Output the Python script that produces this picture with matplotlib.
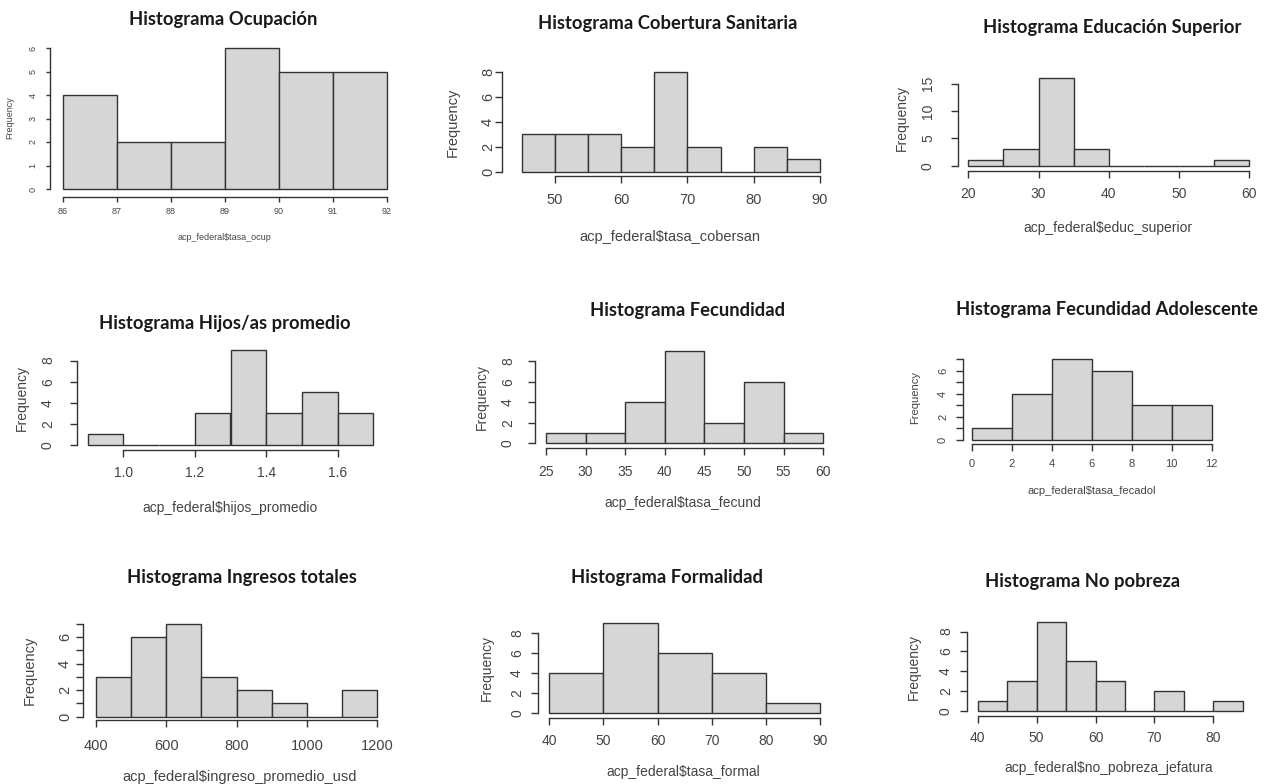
import numpy as np
import matplotlib
matplotlib.use("Agg")
import matplotlib.pyplot as plt

W, H = 1268, 784

# frequencies per bin, bins given by their break points
ocup_breaks = [86, 87, 88, 89, 90, 91, 92]
ocup_counts = [4, 2, 2, 6, 5, 5]

cobersan_breaks = [45, 50, 55, 60, 65, 70, 75, 80, 85, 90]
cobersan_counts = [3, 3, 3, 2, 8, 2, 0, 2, 1]

educ_breaks = [20, 25, 30, 35, 40, 45, 50, 55, 60]
educ_counts = [1, 3, 16, 3, 0, 0, 0, 1]

hijos_breaks = [0.9, 1.0, 1.1, 1.2, 1.3, 1.4, 1.5, 1.6, 1.7]
hijos_counts = [1, 0, 0, 3, 9, 3, 5, 3]

fecund_breaks = [25, 30, 35, 40, 45, 50, 55, 60]
fecund_counts = [1, 1, 4, 9, 2, 6, 1]

fecadol_breaks = [0, 2, 4, 6, 8, 10, 12]
fecadol_counts = [1, 4, 7, 6, 3, 3]

ingreso_breaks = [400, 500, 600, 700, 800, 900, 1000, 1100, 1200]
ingreso_counts = [3, 6, 7, 3, 2, 1, 0, 2]

formal_breaks = [40, 50, 60, 70, 80, 90]
formal_counts = [4, 9, 6, 4, 1]

nopob_breaks = [40, 45, 50, 55, 60, 65, 70, 75, 80, 85]
nopob_counts = [1, 3, 9, 5, 3, 0, 2, 0, 1]

FILL = "#d6d6d6"
EDGE = "#333333"
TXT = "#444444"
AXFONT = "Liberation Sans"
TITLEFONT = "Lato"
TITLESIZE = 13.2

# one entry per histogram: text, ticks and where it sits on the page (pixels)
panels = [
    dict(title="Histograma Ocupación", xlabel="acp_federal$tasa_ocup",
         breaks=ocup_breaks, counts=ocup_counts,
         xticks=[86, 87, 88, 89, 90, 91, 92], yticks=[0, 1, 2, 3, 4, 5, 6], ystep=1,
         L=50, B=197, px0=63, px1=387, py0=189, ptop=48,
         fs=6.5, tl=4.5, ytx=33, xty=212, xlab=(225, 237), ylab=(10, 118), tpos=(223, 19)),
    dict(title="Histograma Cobertura Sanitaria", xlabel="acp_federal$tasa_cobersan",
         breaks=cobersan_breaks, counts=cobersan_counts,
         xticks=[50, 60, 70, 80, 90], yticks=[0, 2, 4, 6, 8], ystep=1,
         L=501.7, B=176, px0=521.7, px1=820, py0=171.7, ptop=72.3,
         fs=10.5, tl=6.5, ytx=488, xty=200, xlab=(670, 237), ylab=(453, 122), tpos=(668, 23)),
    dict(title="Histograma Educación Superior", xlabel="acp_federal$educ_superior",
         breaks=educ_breaks, counts=educ_counts,
         xticks=[20, 30, 40, 50, 60], yticks=[0, 5, 10, 15], ystep=1,
         L=958.3, B=170.7, px0=968.3, px1=1249.3, py0=165.7, ptop=78.3,
         fs=10, tl=6.5, ytx=928, xty=194, xlab=(1108, 228), ylab=(902, 118), tpos=(1112, 28)),
    dict(title="Histograma Hijos/as promedio", xlabel="acp_federal$hijos_promedio",
         breaks=hijos_breaks, counts=hijos_counts,
         xticks=[1.0, 1.2, 1.4, 1.6], yticks=[0, 2, 4, 6, 8], ystep=1,
         L=76.7, B=450, px0=87.7, px1=373.3, py0=445, ptop=350,
         fs=10, tl=6.5, ytx=48, xty=473, xlab=(230, 508), ylab=(22, 398), tpos=(225, 323)),
    dict(title="Histograma Fecundidad", xlabel="acp_federal$tasa_fecund",
         breaks=fecund_breaks, counts=fecund_counts,
         xticks=[25, 30, 35, 40, 45, 50, 55, 60], yticks=[0, 2, 4, 6, 8], ystep=1,
         L=535, B=448.3, px0=546, px1=823.3, py0=443.3, ptop=351,
         fs=10, tl=6.5, ytx=508, xty=472, xlab=(683, 503), ylab=(482, 397), tpos=(688, 311)),
    dict(title="Histograma Fecundidad Adolescente", xlabel="acp_federal$tasa_fecadol",
         breaks=fecadol_breaks, counts=fecadol_counts,
         xticks=[0, 2, 4, 6, 8, 10, 12], yticks=[0, 1, 2, 3, 4, 5, 6, 7], ystep=2,
         L=963.3, B=444, px0=971.7, px1=1211.7, py0=440, ptop=359.3,
         fs=8, tl=6.5, ytx=943, xty=464, xlab=(1092, 491), ylab=(915, 398), tpos=(1107, 309)),
    dict(title="Histograma Ingresos totales", xlabel="acp_federal$ingreso_promedio_usd",
         breaks=ingreso_breaks, counts=ingreso_counts,
         xticks=[400, 600, 800, 1000, 1200], yticks=[0, 1, 2, 3, 4, 5, 6, 7], ystep=2,
         L=83.3, B=720, px0=96, px1=377.3, py0=716.7, ptop=623.7,
         fs=10.5, tl=6.5, ytx=65, xty=746, xlab=(240, 777), ylab=(30, 670), tpos=(242, 578)),
    dict(title="Histograma Formalidad", xlabel="acp_federal$tasa_formal",
         breaks=formal_breaks, counts=formal_counts,
         xticks=[40, 50, 60, 70, 80, 90], yticks=[0, 2, 4, 6, 8], ystep=1,
         L=538.3, B=718.3, px0=549.3, px1=820, py0=712.7, ptop=623.3,
         fs=10, tl=6.5, ytx=517, xty=741, xlab=(683, 772), ylab=(487, 668), tpos=(667, 578)),
    dict(title="Histograma No pobreza", xlabel="acp_federal$no_pobreza_jefatura",
         breaks=nopob_breaks, counts=nopob_counts,
         xticks=[40, 50, 60, 70, 80], yticks=[0, 2, 4, 6, 8], ystep=1,
         L=966.7, B=716, px0=977.7, px1=1242.8, py0=710.7, ptop=621.7,
         fs=10, tl=6.5, ytx=946, xty=738, xlab=(1109, 768), ylab=(914, 667), tpos=(1083, 581)),
]

PT = 100 / 72.0  # pixels per point at dpi=100

fig = plt.figure(figsize=(W / 100, H / 100), dpi=100)
fig.patch.set_facecolor("white")


def fx(x):
    return x / W


def fy(y):
    return 1 - y / H


def draw_hist(p):
    br = p["breaks"]
    cnt = p["counts"]
    b0, b1 = br[0], br[-1]
    ymax = max(cnt)
    sx = (p["px1"] - p["px0"]) / (b1 - b0)
    sy = (p["py0"] - p["ptop"]) / ymax
    R = p["px1"] + 0.04 * (p["px1"] - p["px0"])
    T = p["ptop"] - 0.04 * (p["py0"] - p["ptop"])
    L, B = p["L"], p["B"]

    ax = fig.add_axes([fx(L), fy(B), (R - L) / W, (B - T) / H])
    ax.set_facecolor("none")
    ax.set_xlim(b0 - (p["px0"] - L) / sx, b1 + (R - p["px1"]) / sx)
    ax.set_ylim(-(B - p["py0"]) / sy, ymax + (p["ptop"] - T) / sy)

    ax.bar(br[:-1], cnt, width=np.diff(br), align="edge",
           color=FILL, edgecolor=EDGE, linewidth=1.0)

    for s in ["top", "right"]:
        ax.spines[s].set_visible(False)
    for s in ["left", "bottom"]:
        ax.spines[s].set_color(EDGE)
        ax.spines[s].set_linewidth(1.0)
    ax.spines["left"].set_bounds(p["yticks"][0], p["yticks"][-1])
    ax.spines["bottom"].set_bounds(p["xticks"][0], p["xticks"][-1])

    xt = p["xticks"]
    ax.set_xticks(xt)
    ax.set_xticklabels([f"{v:g}" if isinstance(v, int) else f"{v:.1f}" for v in xt])
    yt = p["yticks"]
    ax.set_yticks(yt)
    ax.set_yticklabels([str(v) if i % p["ystep"] == 0 else "" for i, v in enumerate(yt)])

    tl = p["tl"]
    ax.tick_params(axis="both", direction="out", length=tl / PT, width=1.0,
                   color=EDGE, labelcolor=TXT, labelsize=p["fs"])
    ax.tick_params(axis="x", pad=(p["xty"] - B - tl) / PT)
    ax.tick_params(axis="y", pad=(L - p["ytx"] - tl) / PT)
    for lab in ax.get_xticklabels():
        lab.set_fontfamily(AXFONT)
        lab.set_va("center")
    for lab in ax.get_yticklabels():
        lab.set_fontfamily(AXFONT)
        lab.set_rotation(90)
        lab.set_ha("center")
        lab.set_va("center")

    fig.text(fx(p["xlab"][0]), fy(p["xlab"][1]), p["xlabel"], ha="center", va="center",
             fontsize=p["fs"], color=TXT, family=AXFONT)
    fig.text(fx(p["ylab"][0]), fy(p["ylab"][1]), "Frequency", ha="center", va="center",
             rotation=90, fontsize=p["fs"], color=TXT, family=AXFONT)
    fig.text(fx(p["tpos"][0]), fy(p["tpos"][1]), p["title"], ha="center", va="center",
             fontsize=TITLESIZE, fontweight="bold", color="#1a1a1a", family=TITLEFONT)
    return ax


for p in panels:
    draw_hist(p)

fig.savefig("out.png", dpi=100, facecolor="white")
